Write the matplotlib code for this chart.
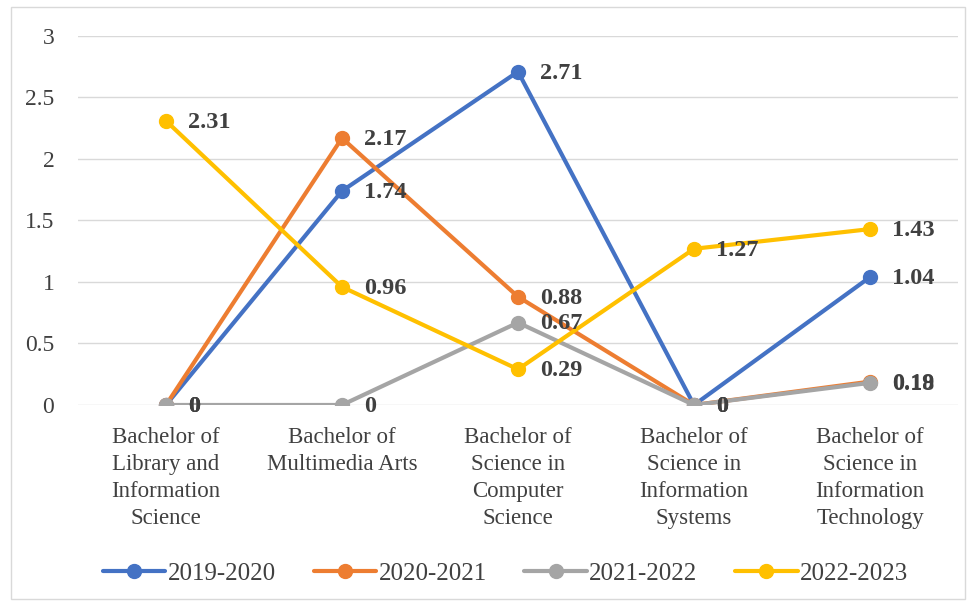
import matplotlib.pyplot as plt
from matplotlib.patches import Rectangle

plt.rcParams['font.family'] = ['Liberation Serif', 'DejaVu Serif']

# programs and yearly values
programs = [
    "Bachelor of\nLibrary and\nInformation\nScience",
    "Bachelor of\nMultimedia Arts",
    "Bachelor of\nScience in\nComputer\nScience",
    "Bachelor of\nScience in\nInformation\nSystems",
    "Bachelor of\nScience in\nInformation\nTechnology",
]
years = ["2019-2020", "2020-2021", "2021-2022", "2022-2023"]
y2019 = [0, 1.74, 2.71, 0, 1.04]
y2020 = [0, 2.17, 0.88, 0, 0.19]
y2021 = [0, 0, 0.67, 0, 0.18]
y2022 = [2.31, 0.96, 0.29, 1.27, 1.43]
colors = ["#4472C4", "#ED7D31", "#A5A5A5", "#FFC000"]

fig = plt.figure(figsize=(9.76, 6.06), dpi=100)
ax = fig.add_axes([0.0799, 0.3317, 0.9017, 0.6089])

x = list(range(len(programs)))
for vals, name, c in zip([y2019, y2020, y2021, y2022], years, colors):
    ax.plot(x, vals, color=c, lw=3, marker="o", ms=10, label=name,
            solid_capstyle="round")
    for xi, v in zip(x, vals):
        ax.annotate(f"{v:g}", (xi, v), xytext=(16, -1), textcoords="offset points",
                    va="center", ha="left", fontsize=17.5, fontweight="bold",
                    color="#404040")

ax.set_xlim(-0.5, len(programs) - 0.5)
ax.set_ylim(0, 3)
ax.set_yticks([0, 0.5, 1, 1.5, 2, 2.5, 3])
ax.set_yticklabels(["0", "0.5", "1", "1.5", "2", "2.5", "3"])
ax.set_xticks(x)
ax.set_xticklabels(programs, fontsize=16.5, color="#404040", linespacing=1.37)
ax.tick_params(axis="y", labelsize=17, labelcolor="#404040", length=0, pad=17)
ax.tick_params(axis="x", length=0, pad=16)
ax.grid(axis="y", color="#D9D9D9", lw=1)
ax.set_axisbelow(True)
for s in ax.spines.values():
    s.set_visible(False)

fig.legend(loc="center", bbox_to_anchor=(0.518, 0.054), ncol=4, frameon=False,
           fontsize=18, handlelength=2.5, columnspacing=1.5, handletextpad=0.1,
           labelcolor="#404040")

# outer chart border
fig.patches.append(Rectangle((0.011, 0.012), 0.978, 0.976, transform=fig.transFigure,
                             fill=False, edgecolor="#D9D9D9", lw=1))

fig.savefig("out.png", dpi=100)
